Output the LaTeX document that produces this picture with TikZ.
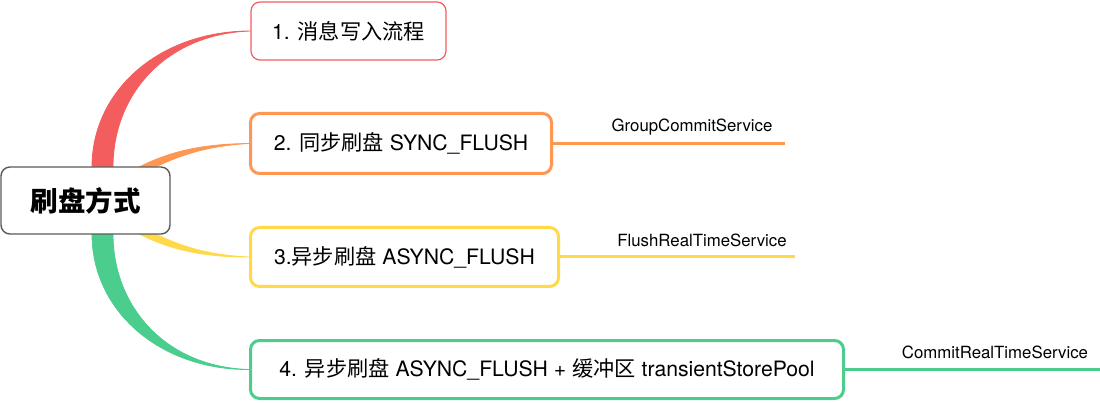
\documentclass[tikz,border=0pt]{standalone}
\usepackage{fontspec}
\setmainfont{TeX Gyre Heros}
\newfontfamily\cjk{Noto Sans CJK SC}
\usetikzlibrary{backgrounds}
\definecolor{cred}{HTML}{F45D5D}
\definecolor{corange}{HTML}{FF9651}
\definecolor{cyellow}{HTML}{FFD94A}
\definecolor{cgreen}{HTML}{4BCD8D}
\definecolor{croot}{HTML}{5A5A5A}
\begin{document}
\begin{tikzpicture}[x=1pt,y=-1pt,
  topic/.style={draw, rounded corners=9pt, fill=white, line width=3pt, inner sep=0pt,
    font=\fontsize{21.2}{25}\selectfont},
  rootbox/.style={draw=croot, rounded corners=9pt, fill=white, line width=1.4pt, inner sep=0pt,
    font=\fontsize{27.5}{32}\selectfont\bfseries},
  detail/.style={line width=3pt},
  dlabel/.style={inner sep=0pt, font=\fontsize{16.8}{20}\selectfont},
  branch/.style={line width=0.8pt}
]
\useasboundingbox (0,0) rectangle (1100,403);

\node[rootbox, minimum width=169pt, minimum height=67pt] (r) at (85.5,200.5) {\cjk 刷盘方式};

\node[topic, draw=cred, line width=1.2pt, minimum width=195pt, minimum height=58pt] (b1) at (348.5,31) {1. {\cjk 消息写入流程}};
\node[topic, draw=corange, minimum width=301pt, minimum height=60pt] (b2) at (401,143.5) {2. {\cjk 同步刷盘} SYNC\_FLUSH};
\node[topic, draw=cyellow, minimum width=308pt, minimum height=59pt] (b3) at (404.5,257) {3.{\cjk 异步刷盘} ASYNC\_FLUSH};
\node[topic, draw=cgreen, minimum width=593pt, minimum height=58pt] (b4) at (547,369.5) {4. {\cjk 异步刷盘} ASYNC\_FLUSH + {\cjk 缓冲区} transientStorePool};

\coordinate (e2) at (785,143.5);
\coordinate (e3) at (795,257);
\coordinate (e4) at (1100,369.5);
\draw[detail, corange] (b2.east) -- (e2);
\draw[detail, cyellow] (b3.east) -- (e3);
\draw[detail, cgreen] (b4.east) -- (e4);

\node[dlabel] (l2) at (692,127) {GroupCommitService};
\node[dlabel] (l3) at (702,240) {FlushRealTimeService};
\node[dlabel] (l4) at (995,352) {CommitRealTimeService};

\begin{scope}[on background layer]
\filldraw[branch, cred] (92,200) -- (92,167) .. controls (92,90) and (160,31) .. (b1.west)
  .. controls (165,34) and (113,95) .. (113,167) -- (113,200) -- cycle;
\filldraw[branch, corange] (120,185) -- (130,172) .. controls (165,152) and (200,144) .. (b2.west)
  .. controls (205,146) and (175,156) .. (140,175) -- (125,190) -- cycle;
\filldraw[branch, cyellow] (120,216) -- (130,229) .. controls (165,249) and (200,257) .. (b3.west)
  .. controls (205,255) and (175,245) .. (140,226) -- (125,211) -- cycle;
\filldraw[branch, cgreen] (92,201) -- (92,234) .. controls (92,311) and (160,370) .. (b4.west)
  .. controls (165,367) and (113,306) .. (113,234) -- (113,201) -- cycle;
\end{scope}
\end{tikzpicture}
\end{document}
